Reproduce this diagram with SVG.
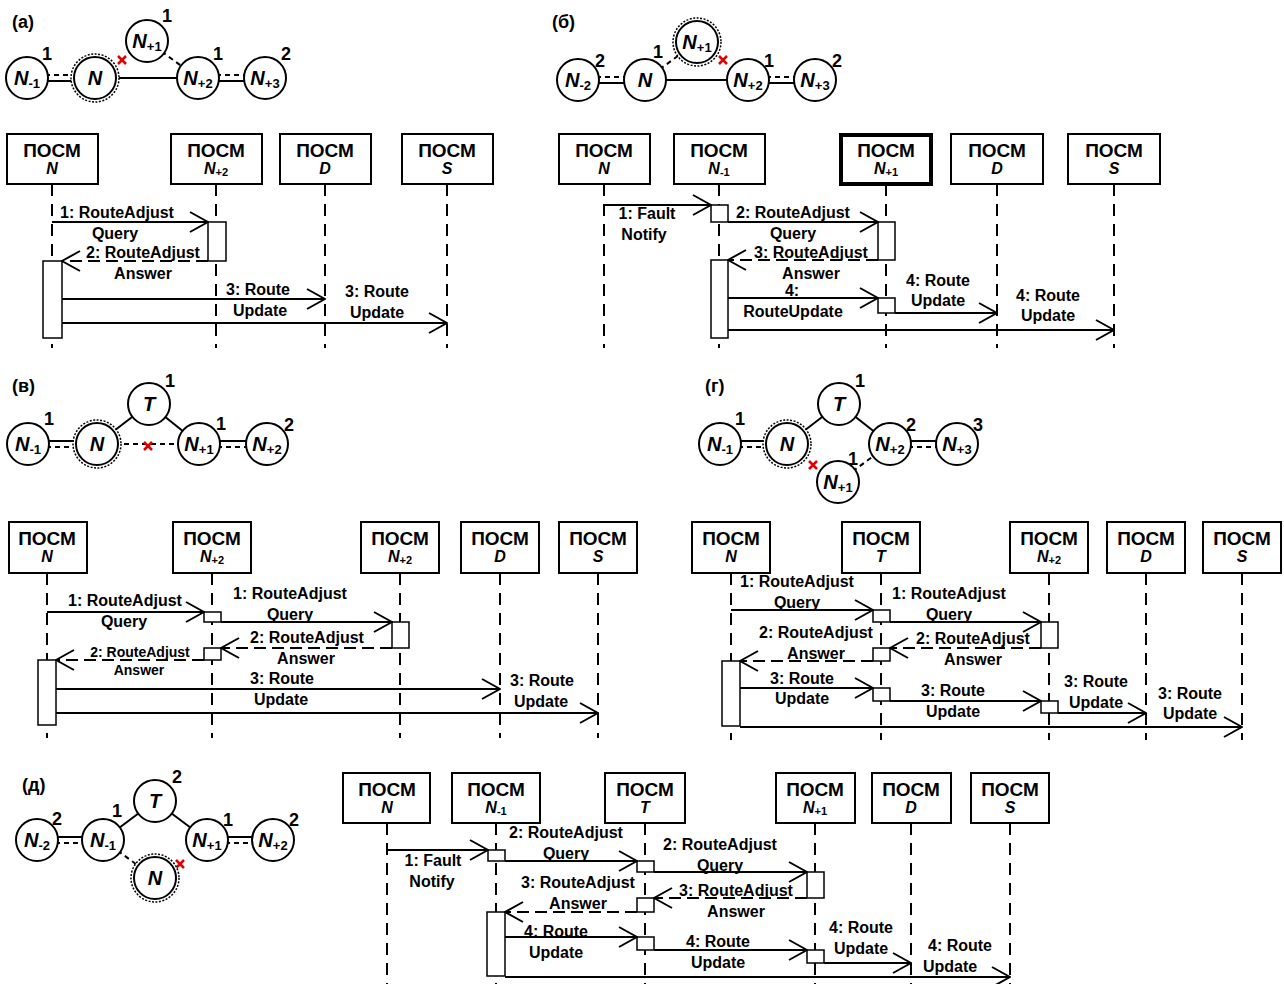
<svg xmlns="http://www.w3.org/2000/svg" width="1284" height="984" viewBox="0 0 1284 984">
<style>
  text { font-family: "Liberation Sans", Arial, sans-serif; fill: #000; }
  .pl { font-size: 18px; font-weight: bold; }
  .nl { font-size: 20px; font-weight: bold; font-style: italic; text-anchor: middle; }
  .ns { font-size: 13px; font-style: normal; }
  .num { font-size: 18px; font-weight: bold; text-anchor: middle; }
  .node { fill: #fff; stroke: #000; stroke-width: 2; }
  .ring { fill: #fff; stroke: #000; stroke-width: 1.5; stroke-dasharray: 2 1.5; }
  .ln { stroke: #000; stroke-width: 2; fill: none; }
  .dl { stroke: #000; stroke-width: 2; fill: none; stroke-dasharray: 5 4; }
  .cross { stroke: #e00000; stroke-width: 2.5; fill: none; }
  .box { fill: #fff; stroke: #000; stroke-width: 2; }
  .boxb { fill: #fff; stroke: #000; stroke-width: 4; }
  .bt { font-size: 19px; font-weight: bold; text-anchor: middle; }
  .bl { font-size: 16px; font-weight: bold; font-style: italic; text-anchor: middle; }
  .bs { font-size: 11px; font-style: normal; }
  .life { stroke: #000; stroke-width: 2; stroke-dasharray: 12 8; fill: none; }
  .act { fill: #fff; stroke: #000; stroke-width: 1.5; }
  .msg { stroke: #000; stroke-width: 2; fill: none; marker-end: url(#open); }
  .ret { stroke: #000; stroke-width: 2; fill: none; stroke-dasharray: 12 6; marker-end: url(#open); }
  .ml { font-size: 16px; font-weight: bold; text-anchor: middle; }
  .ms { font-size: 14px; font-weight: bold; text-anchor: middle; }
</style>
<defs>
  <marker id="open" viewBox="0 0 20 22" refX="19" refY="11" markerWidth="20" markerHeight="22" markerUnits="userSpaceOnUse" orient="auto">
    <path d="M1,1 L19,11 L1,21" fill="none" stroke="#000" stroke-width="2"/>
  </marker>
</defs>
<rect width="1284" height="984" fill="#fff"/>

<!-- ===== (а) topology ===== -->
<g id="topo-a">
  <text class="pl" x="12" y="28">(а)</text>
  <g id="a-links">
    <line class="dl" x1="27" y1="75" x2="95" y2="75"/>
    <line class="ln" x1="27" y1="81" x2="95" y2="81"/>
    <line class="ln" x1="95" y1="78" x2="198" y2="78"/>
    <line class="dl" x1="147" y1="41" x2="198" y2="78"/>
    <line class="dl" x1="198" y1="75" x2="265" y2="75"/>
    <line class="ln" x1="198" y1="81" x2="265" y2="81"/>
    <path class="cross" d="M118,56 L126,64 M126,56 L118,64"/>
  </g>
  <g id="a-nm1"><circle class="node" cx="27" cy="78" r="21"/><text class="nl" x="27" y="85">N<tspan class="ns" dy="3">-1</tspan></text></g>
  <g id="a-n"><circle class="ring" cx="95" cy="78" r="24"/><circle class="node" cx="95" cy="78" r="21"/><text class="nl" x="95" y="85">N</text></g>
  <g id="a-np1"><circle class="node" cx="147" cy="41" r="21"/><text class="nl" x="147" y="48">N<tspan class="ns" dy="3">+1</tspan></text></g>
  <g id="a-np2"><circle class="node" cx="198" cy="78" r="21"/><text class="nl" x="198" y="85">N<tspan class="ns" dy="3">+2</tspan></text></g>
  <g id="a-np3"><circle class="node" cx="265" cy="78" r="21"/><text class="nl" x="265" y="85">N<tspan class="ns" dy="3">+3</tspan></text></g>
  <text class="num" x="47" y="60">1</text>
  <text class="num" x="167" y="22">1</text>
  <text class="num" x="218" y="60">1</text>
  <text class="num" x="286" y="60">2</text>
</g>

<!-- ===== (а) sequence ===== -->
<g id="seq-a">
  <g id="a-lifelines">
    <line class="life" x1="52" y1="184" x2="52" y2="348"/>
    <line class="life" x1="216" y1="184" x2="216" y2="348"/>
    <line class="life" x1="325" y1="184" x2="325" y2="348"/>
    <line class="life" x1="447" y1="184" x2="447" y2="348"/>
  </g>
  <g id="a-box-n"><rect class="box" x="7" y="134" width="91" height="50"/><text class="bt" x="52" y="157">ПОСМ</text><text class="bl" x="52" y="174">N</text></g>
  <g id="a-box-np2"><rect class="box" x="171" y="134" width="91" height="50"/><text class="bt" x="216" y="157">ПОСМ</text><text class="bl" x="216" y="174">N<tspan class="bs" dy="2">+2</tspan></text></g>
  <g id="a-box-d"><rect class="box" x="280" y="134" width="91" height="50"/><text class="bt" x="325" y="157">ПОСМ</text><text class="bl" x="325" y="174">D</text></g>
  <g id="a-box-s"><rect class="box" x="402" y="134" width="91" height="50"/><text class="bt" x="447" y="157">ПОСМ</text><text class="bl" x="447" y="174">S</text></g>
  <g id="a-acts">
    <rect class="act" x="208" y="222" width="18" height="39"/>
    <rect class="act" x="43" y="261" width="19" height="77"/>
  </g>
  <g id="a-messages">
    <path class="msg" d="M52,222 H208"/>
    <path class="ret" d="M208,261 H62"/>
    <path class="msg" d="M62,299 H325"/>
    <path class="msg" d="M62,323 H447"/>
    <text class="ml" x="117" y="218">1: RouteAdjust</text>
    <text class="ml" x="115" y="239">Query</text>
    <text class="ml" x="143" y="258">2: RouteAdjust</text>
    <text class="ml" x="143" y="279">Answer</text>
    <text class="ml" x="258" y="295">3: Route</text>
    <text class="ml" x="260" y="316">Update</text>
    <text class="ml" x="377" y="297">3: Route</text>
    <text class="ml" x="377" y="318">Update</text>
  </g>
</g>

<!-- ===== (б) topology ===== -->
<g id="topo-b">
  <text class="pl" x="552" y="28">(б)</text>
  <g id="b-links">
    <line class="dl" x1="578" y1="77" x2="645" y2="77"/>
    <line class="ln" x1="578" y1="83" x2="645" y2="83"/>
    <line class="ln" x1="645" y1="80" x2="748" y2="80"/>
    <line class="dl" x1="645" y1="80" x2="697" y2="42"/>
    <line class="dl" x1="748" y1="77" x2="815" y2="77"/>
    <line class="ln" x1="748" y1="83" x2="815" y2="83"/>
    <path class="cross" d="M719,56 L727,64 M727,56 L719,64"/>
  </g>
  <g id="b-nm2"><circle class="node" cx="578" cy="80" r="21"/><text class="nl" x="578" y="87">N<tspan class="ns" dy="3">-2</tspan></text></g>
  <g id="b-n"><circle class="node" cx="645" cy="80" r="21"/><text class="nl" x="645" y="87">N</text></g>
  <g id="b-np1"><circle class="ring" cx="697" cy="42" r="24"/><circle class="node" cx="697" cy="42" r="21"/><text class="nl" x="697" y="49">N<tspan class="ns" dy="3">+1</tspan></text></g>
  <g id="b-np2"><circle class="node" cx="748" cy="80" r="21"/><text class="nl" x="748" y="87">N<tspan class="ns" dy="3">+2</tspan></text></g>
  <g id="b-np3"><circle class="node" cx="815" cy="80" r="21"/><text class="nl" x="815" y="87">N<tspan class="ns" dy="3">+3</tspan></text></g>
  <text class="num" x="600" y="67">2</text>
  <text class="num" x="658" y="58">1</text>
  <text class="num" x="769" y="67">1</text>
  <text class="num" x="837" y="67">2</text>
</g>

<!-- ===== (б) sequence ===== -->
<g id="seq-b">
  <g id="b-lifelines">
    <line class="life" x1="604" y1="184" x2="604" y2="348"/>
    <line class="life" x1="719" y1="184" x2="719" y2="348"/>
    <line class="life" x1="886" y1="184" x2="886" y2="348"/>
    <line class="life" x1="997" y1="184" x2="997" y2="348"/>
    <line class="life" x1="1114" y1="184" x2="1114" y2="348"/>
  </g>
  <g id="b-box-n"><rect class="box" x="559" y="134" width="91" height="50"/><text class="bt" x="604" y="157">ПОСМ</text><text class="bl" x="604" y="174">N</text></g>
  <g id="b-box-nm1"><rect class="box" x="674" y="134" width="91" height="50"/><text class="bt" x="719" y="157">ПОСМ</text><text class="bl" x="719" y="174">N<tspan class="bs" dy="2">-1</tspan></text></g>
  <g id="b-box-np1"><rect class="boxb" x="841" y="135" width="90" height="49"/><text class="bt" x="886" y="157">ПОСМ</text><text class="bl" x="886" y="174">N<tspan class="bs" dy="2">+1</tspan></text></g>
  <g id="b-box-d"><rect class="box" x="951" y="134" width="92" height="50"/><text class="bt" x="997" y="157">ПОСМ</text><text class="bl" x="997" y="174">D</text></g>
  <g id="b-box-s"><rect class="box" x="1068" y="134" width="92" height="50"/><text class="bt" x="1114" y="157">ПОСМ</text><text class="bl" x="1114" y="174">S</text></g>
  <g id="b-acts">
    <rect class="act" x="711" y="205" width="17" height="17"/>
    <rect class="act" x="878" y="222" width="17" height="38"/>
    <rect class="act" x="711" y="260" width="17" height="78"/>
    <rect class="act" x="878" y="298" width="17" height="15"/>
  </g>
  <g id="b-messages">
    <path class="msg" d="M604,205 H711"/>
    <path class="msg" d="M728,222 H878"/>
    <path class="ret" d="M878,260 H728"/>
    <path class="msg" d="M728,298 H878"/>
    <path class="msg" d="M895,313 H997"/>
    <path class="msg" d="M728,330 H1114"/>
    <text class="ml" x="647" y="219">1: Fault</text>
    <text class="ml" x="644" y="240">Notify</text>
    <text class="ml" x="793" y="218">2: RouteAdjust</text>
    <text class="ml" x="793" y="239">Query</text>
    <text class="ml" x="811" y="258">3: RouteAdjust</text>
    <text class="ml" x="811" y="279">Answer</text>
    <text class="ml" x="792" y="296">4:</text>
    <text class="ml" x="793" y="317">RouteUpdate</text>
    <text class="ml" x="938" y="286">4: Route</text>
    <text class="ml" x="938" y="306">Update</text>
    <text class="ml" x="1048" y="301">4: Route</text>
    <text class="ml" x="1048" y="321">Update</text>
  </g>
</g>

<!-- ===== (в) topology ===== -->
<g id="topo-v">
  <text class="pl" x="12" y="392">(в)</text>
  <g id="v-links">
    <line class="ln" x1="28" y1="441" x2="97" y2="441"/>
    <line class="dl" x1="28" y1="447" x2="97" y2="447"/>
    <line class="ln" x1="97" y1="444" x2="149" y2="404"/>
    <line class="ln" x1="149" y1="404" x2="199" y2="444"/>
    <line class="dl" x1="97" y1="444" x2="199" y2="444"/>
    <line class="ln" x1="199" y1="441" x2="267" y2="441"/>
    <line class="dl" x1="199" y1="447" x2="267" y2="447"/>
    <path class="cross" d="M144,442 L152,450 M152,442 L144,450"/>
  </g>
  <g id="v-nm1"><circle class="node" cx="28" cy="444" r="21"/><text class="nl" x="28" y="451">N<tspan class="ns" dy="3">-1</tspan></text></g>
  <g id="v-n"><circle class="ring" cx="97" cy="444" r="24"/><circle class="node" cx="97" cy="444" r="21"/><text class="nl" x="97" y="451">N</text></g>
  <g id="v-t"><circle class="node" cx="149" cy="404" r="21"/><text class="nl" x="149" y="411">T</text></g>
  <g id="v-np1"><circle class="node" cx="199" cy="444" r="21"/><text class="nl" x="199" y="451">N<tspan class="ns" dy="3">+1</tspan></text></g>
  <g id="v-np2"><circle class="node" cx="267" cy="444" r="21"/><text class="nl" x="267" y="451">N<tspan class="ns" dy="3">+2</tspan></text></g>
  <text class="num" x="49" y="425">1</text>
  <text class="num" x="170" y="387">1</text>
  <text class="num" x="221" y="430">1</text>
  <text class="num" x="289" y="431">2</text>
</g>

<!-- ===== (в) sequence ===== -->
<g id="seq-v">
  <g id="v-lifelines">
    <line class="life" x1="47" y1="573" x2="47" y2="738"/>
    <line class="life" x1="212" y1="573" x2="212" y2="738"/>
    <line class="life" x1="400" y1="573" x2="400" y2="738"/>
    <line class="life" x1="500" y1="573" x2="500" y2="738"/>
    <line class="life" x1="598" y1="573" x2="598" y2="738"/>
  </g>
  <g id="v-box-n"><rect class="box" x="9" y="522" width="78" height="51"/><text class="bt" x="47" y="545">ПОСМ</text><text class="bl" x="47" y="562">N</text></g>
  <g id="v-box-np2a"><rect class="box" x="173" y="522" width="78" height="51"/><text class="bt" x="212" y="545">ПОСМ</text><text class="bl" x="212" y="562">N<tspan class="bs" dy="2">+2</tspan></text></g>
  <g id="v-box-np2b"><rect class="box" x="361" y="522" width="78" height="51"/><text class="bt" x="400" y="545">ПОСМ</text><text class="bl" x="400" y="562">N<tspan class="bs" dy="2">+2</tspan></text></g>
  <g id="v-box-d"><rect class="box" x="461" y="522" width="78" height="51"/><text class="bt" x="500" y="545">ПОСМ</text><text class="bl" x="500" y="562">D</text></g>
  <g id="v-box-s"><rect class="box" x="559" y="522" width="78" height="51"/><text class="bt" x="598" y="545">ПОСМ</text><text class="bl" x="598" y="562">S</text></g>
  <g id="v-acts">
    <rect class="act" x="204" y="612" width="17" height="10"/>
    <rect class="act" x="392" y="622" width="17" height="26"/>
    <rect class="act" x="204" y="648" width="17" height="12"/>
    <rect class="act" x="38" y="660" width="18" height="65"/>
  </g>
  <g id="v-messages">
    <path class="msg" d="M47,612 H204"/>
    <path class="msg" d="M221,622 H392"/>
    <path class="ret" d="M392,648 H221"/>
    <path class="ret" d="M204,660 H56"/>
    <path class="msg" d="M56,689 H500"/>
    <path class="msg" d="M56,713 H598"/>
    <text class="ml" x="125" y="606">1: RouteAdjust</text>
    <text class="ml" x="124" y="627">Query</text>
    <text class="ml" x="290" y="599">1: RouteAdjust</text>
    <text class="ml" x="290" y="620">Query</text>
    <text class="ml" x="307" y="643">2: RouteAdjust</text>
    <text class="ml" x="306" y="664">Answer</text>
    <text class="ms" x="140" y="657">2: RouteAdjust</text>
    <text class="ms" x="139" y="675">Answer</text>
    <text class="ml" x="282" y="684">3: Route</text>
    <text class="ml" x="281" y="705">Update</text>
    <text class="ml" x="542" y="686">3: Route</text>
    <text class="ml" x="541" y="707">Update</text>
  </g>
</g>

<!-- ===== (г) topology ===== -->
<g id="topo-g">
  <text class="pl" x="705" y="392">(г)</text>
  <g id="g-links">
    <line class="ln" x1="720" y1="441" x2="787" y2="441"/>
    <line class="dl" x1="720" y1="447" x2="787" y2="447"/>
    <line class="ln" x1="787" y1="444" x2="839" y2="404"/>
    <line class="ln" x1="839" y1="404" x2="890" y2="444"/>
    <line class="dl" x1="838" y1="482" x2="890" y2="444"/>
    <line class="ln" x1="890" y1="441" x2="957" y2="441"/>
    <line class="dl" x1="890" y1="447" x2="957" y2="447"/>
    <path class="cross" d="M809,461 L817,469 M817,461 L809,469"/>
  </g>
  <g id="g-nm1"><circle class="node" cx="720" cy="444" r="21"/><text class="nl" x="720" y="451">N<tspan class="ns" dy="3">-1</tspan></text></g>
  <g id="g-n"><circle class="ring" cx="787" cy="444" r="24"/><circle class="node" cx="787" cy="444" r="21"/><text class="nl" x="787" y="451">N</text></g>
  <g id="g-t"><circle class="node" cx="839" cy="404" r="21"/><text class="nl" x="839" y="411">T</text></g>
  <g id="g-np2"><circle class="node" cx="890" cy="444" r="21"/><text class="nl" x="890" y="451">N<tspan class="ns" dy="3">+2</tspan></text></g>
  <g id="g-np3"><circle class="node" cx="957" cy="444" r="21"/><text class="nl" x="957" y="451">N<tspan class="ns" dy="3">+3</tspan></text></g>
  <g id="g-np1"><circle class="node" cx="838" cy="482" r="21"/><text class="nl" x="838" y="489">N<tspan class="ns" dy="3">+1</tspan></text></g>
  <text class="num" x="740" y="425">1</text>
  <text class="num" x="860" y="387">1</text>
  <text class="num" x="911" y="431">2</text>
  <text class="num" x="978" y="431">3</text>
  <text class="num" x="853" y="465">1</text>
</g>

<!-- ===== (г) sequence ===== -->
<g id="seq-g">
  <g id="g-lifelines">
    <line class="life" x1="731" y1="573" x2="731" y2="740"/>
    <line class="life" x1="881" y1="573" x2="881" y2="740"/>
    <line class="life" x1="1049" y1="573" x2="1049" y2="740"/>
    <line class="life" x1="1146" y1="573" x2="1146" y2="740"/>
    <line class="life" x1="1242" y1="573" x2="1242" y2="740"/>
  </g>
  <g id="g-box-n"><rect class="box" x="692" y="522" width="78" height="51"/><text class="bt" x="731" y="545">ПОСМ</text><text class="bl" x="731" y="562">N</text></g>
  <g id="g-box-t"><rect class="box" x="842" y="522" width="78" height="51"/><text class="bt" x="881" y="545">ПОСМ</text><text class="bl" x="881" y="562">T</text></g>
  <g id="g-box-np2"><rect class="box" x="1010" y="522" width="78" height="51"/><text class="bt" x="1049" y="545">ПОСМ</text><text class="bl" x="1049" y="562">N<tspan class="bs" dy="2">+2</tspan></text></g>
  <g id="g-box-d"><rect class="box" x="1107" y="522" width="78" height="51"/><text class="bt" x="1146" y="545">ПОСМ</text><text class="bl" x="1146" y="562">D</text></g>
  <g id="g-box-s"><rect class="box" x="1203" y="522" width="78" height="51"/><text class="bt" x="1242" y="545">ПОСМ</text><text class="bl" x="1242" y="562">S</text></g>
  <g id="g-acts">
    <rect class="act" x="873" y="610" width="17" height="12"/>
    <rect class="act" x="1041" y="622" width="17" height="26"/>
    <rect class="act" x="873" y="648" width="17" height="13"/>
    <rect class="act" x="722" y="661" width="18" height="65"/>
    <rect class="act" x="873" y="688" width="17" height="13"/>
    <rect class="act" x="1041" y="701" width="17" height="12"/>
  </g>
  <g id="g-messages">
    <path class="msg" d="M731,610 H873"/>
    <path class="msg" d="M890,622 H1041"/>
    <path class="ret" d="M1041,648 H890"/>
    <path class="ret" d="M873,661 H740"/>
    <path class="msg" d="M740,688 H873"/>
    <path class="msg" d="M890,701 H1041"/>
    <path class="msg" d="M1058,713 H1146"/>
    <path class="msg" d="M740,727 H1242"/>
    <text class="ml" x="797" y="587">1: RouteAdjust</text>
    <text class="ml" x="797" y="608">Query</text>
    <text class="ml" x="949" y="599">1: RouteAdjust</text>
    <text class="ml" x="949" y="620">Query</text>
    <text class="ml" x="973" y="644">2: RouteAdjust</text>
    <text class="ml" x="973" y="665">Answer</text>
    <text class="ml" x="816" y="638">2: RouteAdjust</text>
    <text class="ml" x="816" y="659">Answer</text>
    <text class="ml" x="802" y="684">3: Route</text>
    <text class="ml" x="802" y="704">Update</text>
    <text class="ml" x="953" y="696">3: Route</text>
    <text class="ml" x="953" y="717">Update</text>
    <text class="ml" x="1096" y="687">3: Route</text>
    <text class="ml" x="1096" y="708">Update</text>
    <text class="ml" x="1190" y="699">3: Route</text>
    <text class="ml" x="1190" y="719">Update</text>
  </g>
</g>

<!-- ===== (д) topology ===== -->
<g id="topo-d">
  <text class="pl" x="22" y="791">(д)</text>
  <g id="d-links">
    <line class="ln" x1="37" y1="837" x2="103" y2="837"/>
    <line class="dl" x1="37" y1="843" x2="103" y2="843"/>
    <line class="ln" x1="103" y1="840" x2="155" y2="801"/>
    <line class="ln" x1="155" y1="801" x2="207" y2="840"/>
    <line class="dl" x1="103" y1="840" x2="155" y2="878"/>
    <line class="ln" x1="207" y1="837" x2="273" y2="837"/>
    <line class="dl" x1="207" y1="843" x2="273" y2="843"/>
    <path class="cross" d="M176,860 L184,868 M184,860 L176,868"/>
  </g>
  <g id="d-nm2"><circle class="node" cx="37" cy="840" r="21"/><text class="nl" x="37" y="847">N<tspan class="ns" dy="3">-2</tspan></text></g>
  <g id="d-nm1"><circle class="node" cx="103" cy="840" r="21"/><text class="nl" x="103" y="847">N<tspan class="ns" dy="3">-1</tspan></text></g>
  <g id="d-t"><circle class="node" cx="155" cy="801" r="21"/><text class="nl" x="155" y="808">T</text></g>
  <g id="d-np1"><circle class="node" cx="207" cy="840" r="21"/><text class="nl" x="207" y="847">N<tspan class="ns" dy="3">+1</tspan></text></g>
  <g id="d-np2"><circle class="node" cx="273" cy="840" r="21"/><text class="nl" x="273" y="847">N<tspan class="ns" dy="3">+2</tspan></text></g>
  <g id="d-n"><circle class="ring" cx="155" cy="878" r="24"/><circle class="node" cx="155" cy="878" r="21"/><text class="nl" x="155" y="885">N</text></g>
  <text class="num" x="57" y="825">2</text>
  <text class="num" x="117" y="817">1</text>
  <text class="num" x="177" y="783">2</text>
  <text class="num" x="228" y="826">1</text>
  <text class="num" x="294" y="826">2</text>
</g>

<!-- ===== (д) sequence ===== -->
<g id="seq-d">
  <g id="d-lifelines">
    <line class="life" x1="387" y1="823" x2="387" y2="984"/>
    <line class="life" x1="496" y1="823" x2="496" y2="984"/>
    <line class="life" x1="645" y1="823" x2="645" y2="984"/>
    <line class="life" x1="815" y1="823" x2="815" y2="984"/>
    <line class="life" x1="911" y1="823" x2="911" y2="984"/>
    <line class="life" x1="1010" y1="823" x2="1010" y2="984"/>
  </g>
  <g id="d-box-n"><rect class="box" x="343" y="773" width="87" height="50"/><text class="bt" x="387" y="796">ПОСМ</text><text class="bl" x="387" y="813">N</text></g>
  <g id="d-box-nm1"><rect class="box" x="452" y="773" width="88" height="50"/><text class="bt" x="496" y="796">ПОСМ</text><text class="bl" x="496" y="813">N<tspan class="bs" dy="2">-1</tspan></text></g>
  <g id="d-box-t"><rect class="box" x="605" y="773" width="80" height="50"/><text class="bt" x="645" y="796">ПОСМ</text><text class="bl" x="645" y="813">T</text></g>
  <g id="d-box-np1"><rect class="box" x="776" y="773" width="79" height="50"/><text class="bt" x="815" y="796">ПОСМ</text><text class="bl" x="815" y="813">N<tspan class="bs" dy="2">+1</tspan></text></g>
  <g id="d-box-d"><rect class="box" x="872" y="773" width="79" height="50"/><text class="bt" x="911" y="796">ПОСМ</text><text class="bl" x="911" y="813">D</text></g>
  <g id="d-box-s"><rect class="box" x="971" y="773" width="78" height="50"/><text class="bt" x="1010" y="796">ПОСМ</text><text class="bl" x="1010" y="813">S</text></g>
  <g id="d-acts">
    <rect class="act" x="488" y="850" width="17" height="11"/>
    <rect class="act" x="637" y="861" width="17" height="11"/>
    <rect class="act" x="807" y="872" width="17" height="26"/>
    <rect class="act" x="637" y="898" width="17" height="14"/>
    <rect class="act" x="487" y="912" width="18" height="64"/>
    <rect class="act" x="637" y="937" width="17" height="13"/>
    <rect class="act" x="807" y="950" width="17" height="13"/>
  </g>
  <g id="d-messages">
    <path class="msg" d="M387,850 H488"/>
    <path class="msg" d="M505,861 H637"/>
    <path class="msg" d="M654,872 H807"/>
    <path class="ret" d="M807,898 H654"/>
    <path class="ret" d="M637,912 H505"/>
    <path class="msg" d="M505,937 H637"/>
    <path class="msg" d="M654,950 H807"/>
    <path class="msg" d="M824,963 H911"/>
    <path class="msg" d="M505,977 H1010"/>
    <text class="ml" x="433" y="866">1: Fault</text>
    <text class="ml" x="432" y="887">Notify</text>
    <text class="ml" x="566" y="838">2: RouteAdjust</text>
    <text class="ml" x="566" y="859">Query</text>
    <text class="ml" x="720" y="850">2: RouteAdjust</text>
    <text class="ml" x="720" y="871">Query</text>
    <text class="ml" x="736" y="896">3: RouteAdjust</text>
    <text class="ml" x="736" y="917">Answer</text>
    <text class="ml" x="578" y="888">3: RouteAdjust</text>
    <text class="ml" x="578" y="909">Answer</text>
    <text class="ml" x="556" y="937">4: Route</text>
    <text class="ml" x="556" y="958">Update</text>
    <text class="ml" x="718" y="947">4: Route</text>
    <text class="ml" x="718" y="968">Update</text>
    <text class="ml" x="861" y="933">4: Route</text>
    <text class="ml" x="861" y="954">Update</text>
    <text class="ml" x="960" y="951">4: Route</text>
    <text class="ml" x="950" y="972">Update</text>
  </g>
</g>
</svg>
